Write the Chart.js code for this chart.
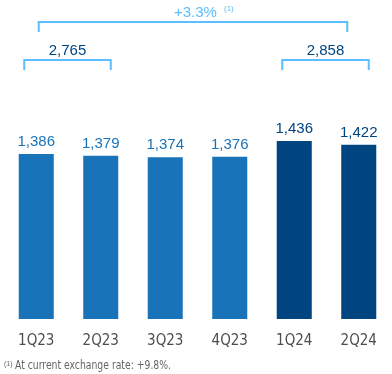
<!DOCTYPE html>
<html>
<head>
<meta charset="utf-8">
<script src="https://cdn.jsdelivr.net/npm/chart.js@4"></script>
<style>
  html, body { margin: 0; padding: 0; background: #fff; }
  #wrap { width: 392px; height: 374px; }
</style>
</head>
<body>
<div id="wrap"><canvas id="chart1" width="392" height="374"></canvas></div>
<script>
// data
const quarters = ['1Q23', '2Q23', '3Q23', '4Q23', '1Q24', '2Q24'];
const values = [1386, 1379, 1374, 1376, 1436, 1422];
const halfYearRanges = [[0, 1], [4, 5]];
const halfYearTotals = ['2,765', '2,858'];
const growthText = '+3.3%';
const footnoteText = 'At current exchange rate: +9.8%.';

const light = '#1973b8';
const dark = '#004481';
const bracketBlue = '#5bbeff';
const barColors = quarters.map(q => q.endsWith('24') ? dark : light);

const fontMain = '"Liberation Sans", Arial, sans-serif';
const fontNarrow = '"Liberation Sans Narrow", "DejaVu Sans Condensed", sans-serif';

function bracket(ctx, x1, x2, yTop, yBot) {
    ctx.beginPath();
    ctx.moveTo(x1, yBot);
    ctx.lineTo(x1, yTop);
    ctx.lineTo(x2, yTop);
    ctx.lineTo(x2, yBot);
    ctx.stroke();
}

const annotations = {
    id: 'annotations',
    afterDatasetsDraw(chart) {
        const ctx = chart.ctx;
        const x = chart.scales.x;
        const y = chart.scales.y;
        ctx.save();

        // bar values
        ctx.font = '15px ' + fontMain;
        ctx.textAlign = 'center';
        ctx.textBaseline = 'alphabetic';
        values.forEach((v, i) => {
            ctx.fillStyle = barColors[i];
            ctx.fillText(v.toLocaleString('en-US'), x.getPixelForValue(i), y.getPixelForValue(v) - 8);
        });

        // half-year brackets
        ctx.strokeStyle = bracketBlue;
        ctx.lineWidth = 2;
        ctx.lineJoin = 'miter';
        halfYearRanges.forEach((r, k) => {
            const x1 = x.getPixelForValue(r[0]) - 12;
            const x2 = x.getPixelForValue(r[1]) + 10;
            bracket(ctx, x1, x2, 60, 70);
            ctx.fillStyle = dark;
            ctx.fillText(halfYearTotals[k], (x1 + x2) / 2, 55);
        });

        // overall bracket
        const gx1 = x.getPixelForValue(0) + 2.5;
        const gx2 = x.getPixelForValue(quarters.length - 1) - 11.5;
        bracket(ctx, gx1, gx2, 22, 32);
        ctx.fillStyle = bracketBlue;
        ctx.textAlign = 'left';
        ctx.fillText(growthText, 174, 17);
        ctx.font = '8px ' + fontMain;
        ctx.fillText('(1)', 224, 11);

        // footnote, squeezed to the reference width
        ctx.fillStyle = '#666';
        ctx.font = '7px ' + fontMain;
        ctx.fillText('(1)', 4, 366);
        ctx.font = '12px ' + fontNarrow;
        const w = ctx.measureText(footnoteText).width;
        const sx = Math.min(1, 156 / w);
        ctx.translate(15, 369);
        ctx.scale(sx, 1);
        ctx.fillText(footnoteText, 0, 0);
        ctx.restore();
    }
};

new Chart(document.getElementById('chart1').getContext('2d'), {
    type: 'bar',
    data: {
        labels: quarters,
        datasets: [{
            data: values,
            backgroundColor: barColors,
            barPercentage: 0.543,
            categoryPercentage: 1
        }]
    },
    options: {
        responsive: false,
        animation: false,
        layout: {padding: {top: 0, bottom: 11, left: 4, right: 1}},
        plugins: {legend: {display: false}, tooltip: {enabled: false}},
        scales: {
            x: {
                grid: {display: false, drawTicks: false},
                border: {display: false},
                ticks: {
                    color: '#4d4d4d',
                    padding: 13,
                    font: {family: fontNarrow, size: 15}
                }
            },
            y: {display: false, min: 750, max: 1980}
        }
    },
    plugins: [annotations]
});
</script>
</body>
</html>
